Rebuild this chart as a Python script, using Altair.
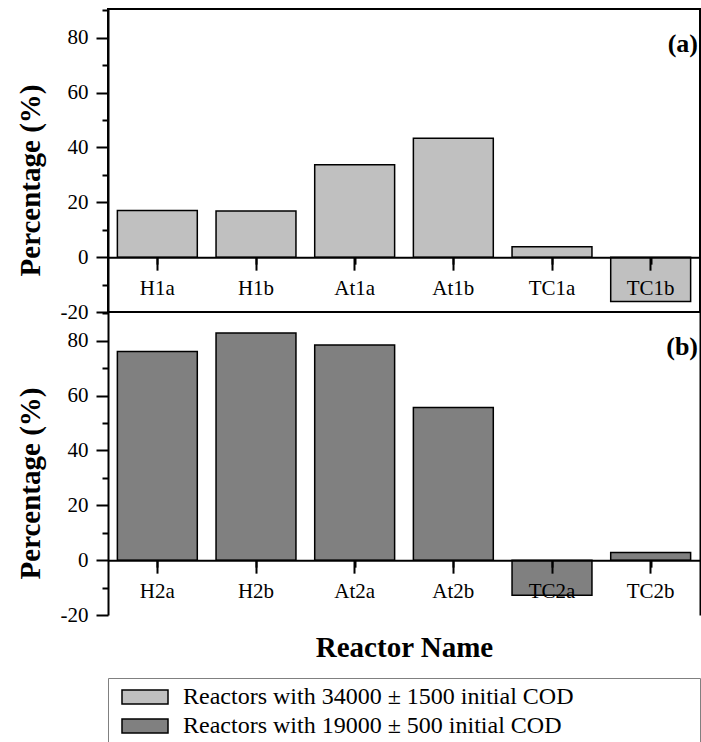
import altair as alt
import pandas as pd

# ---------------- data ----------------
names_a = ["H1a", "H1b", "At1a", "At1b", "TC1a", "TC1b"]
values_a = [17.0, 16.8, 33.7, 43.4, 3.8, -16.2]
names_b = ["H2a", "H2b", "At2a", "At2b", "TC2a", "TC2b"]
values_b = [76.1, 82.8, 78.5, 55.7, -12.8, 2.8]
series = ["Reactors with 34000 \u00b1 1500 initial COD",
          "Reactors with 19000 \u00b1 500 initial COD"]
panel_tags = ["(a)", "(b)"]
y_ticks = [-20, -10, 0, 10, 20, 30, 40, 50, 60, 70, 80, 90]

# ---------------- style ----------------
FONT = "Liberation Serif"
COLORS = ["#c0c0c0", "#808080"]
W, H = 592, 303
Y_MIN, Y_MAX = -20, 90.5
ZERO_OFFSET = -H * (0 - Y_MIN) / (Y_MAX - Y_MIN)
PAD_BLANK = "\u00a0" * 17 + "\u2800"


def panel(names, values, ser, tag, last):
    df = pd.DataFrame({"name": names, "value": values, "series": ser})
    base = alt.Chart(df)

    y_axis = alt.Axis(
        values=y_ticks,
        labelExpr="datum.value % 20 === 0 ? '' + datum.value : ''",
        tickSize={"condition": {"test": "datum.value % 20 === 0", "value": 12}, "value": 6},
        tickWidth=2, tickColor="black",
        domainWidth=2, domainColor="black",
        labelFont=FONT, labelFontSize=21, labelColor="black", labelPadding=8,
        title="Percentage (%)", titleFont=FONT, titleFontSize=29,
        titleFontWeight="bold", titleColor="black",
        titleX=-78, titleY=171, titleAlign="center", titleBaseline="middle",
        grid=False, zindex=1,
    )
    y_enc = alt.Y("value:Q", scale=alt.Scale(domain=[Y_MIN, Y_MAX], nice=False), axis=y_axis)

    x_axis_kwargs = dict(
        orient="bottom", offset=ZERO_OFFSET,
        tickSize=13, tickWidth=2, tickColor="black",
        domainWidth=2, domainColor="black",
        labelFont=FONT, labelFontSize=21, labelColor="black", labelPadding=7,
        labelAngle=0, grid=False, zindex=1,
    )
    if last:
        x_axis = alt.Axis(
            title="Reactor Name", titleFont=FONT, titleFontSize=29,
            titleFontWeight="bold", titleColor="black",
            titleY=96, titleBaseline="alphabetic", **x_axis_kwargs)
    else:
        x_axis = alt.Axis(title=None, **x_axis_kwargs)

    bars = base.mark_bar(stroke="black", strokeWidth=1.5, opacity=1).encode(
        x=alt.X("name:N", sort=names,
                scale=alt.Scale(paddingInner=0.19, paddingOuter=0.095),
                axis=x_axis),
        y=y_enc,
        color=alt.Color(
            "series:N",
            scale=alt.Scale(domain=series, range=COLORS),
            legend=alt.Legend(
                orient="none", legendX=0, legendY=669, title=None,
                direction="vertical",
                labelFont=FONT, labelFontSize=24, labelColor="black",
                labelLimit=1000, labelOffset=25,
                labelExpr="datum.label + '" + PAD_BLANK + "'",
                symbolType="M-1.917,-0.583H1.917V0.583H-1.917Z",
                symbolSize=576, symbolOffset=18,
                symbolStrokeColor="black", symbolStrokeWidth=1.5,
                symbolOpacity=1,
                rowPadding=4, padding=6,
                strokeColor="#808080",
            ),
        ),
    )

    # invisible layer carrying the boundary (minor) ticks and the right frame line
    minor = base.mark_point(opacity=0).encode(
        x=alt.X("name:N", sort=names,
                scale=alt.Scale(paddingInner=0, paddingOuter=0),
                axis=alt.Axis(orient="bottom", offset=ZERO_OFFSET, bandPosition=0,
                              labels=False, domain=False, tickSize=7, tickWidth=2,
                              tickColor="black", title=None, grid=False, zindex=1)),
        y=alt.Y("value:Q",
                axis=alt.Axis(orient="right", labels=False, ticks=False, domain=True,
                              domainWidth=2, domainColor="black", title=None,
                              grid=False, zindex=1)),
    )

    tag_text = alt.Chart(pd.DataFrame({"tag": [tag]})).mark_text(
        font=FONT, fontSize=26, fontWeight="bold", align="right",
        baseline="middle", color="black",
    ).encode(text="tag:N", x=alt.value(W - 2), y=alt.value(35))

    layered = (
        alt.layer(bars, minor, tag_text)
        .resolve_scale(x="independent")
        .resolve_axis(x="independent", y="independent")
        .properties(width=W, height=H)
    )
    if not last:
        layered = layered.properties(view=alt.ViewBackground(stroke="black", strokeWidth=2))
    return layered


top = panel(names_a, values_a, series[0], panel_tags[0], False)
bottom = panel(names_b, values_b, series[1], panel_tags[1], True)

chart = (
    alt.vconcat(top, bottom, spacing=0, bounds="flush")
    .properties(padding={"left": 15, "top": 8, "right": 0, "bottom": 0},
                background="white")
    .configure_view(stroke=None)
    .configure_axis(labelFont=FONT, titleFont=FONT)
    .configure_legend(labelFont=FONT)
    .configure_text(font=FONT)
)

chart.save("out.html", embed_options={"renderer": "svg", "actions": False})
